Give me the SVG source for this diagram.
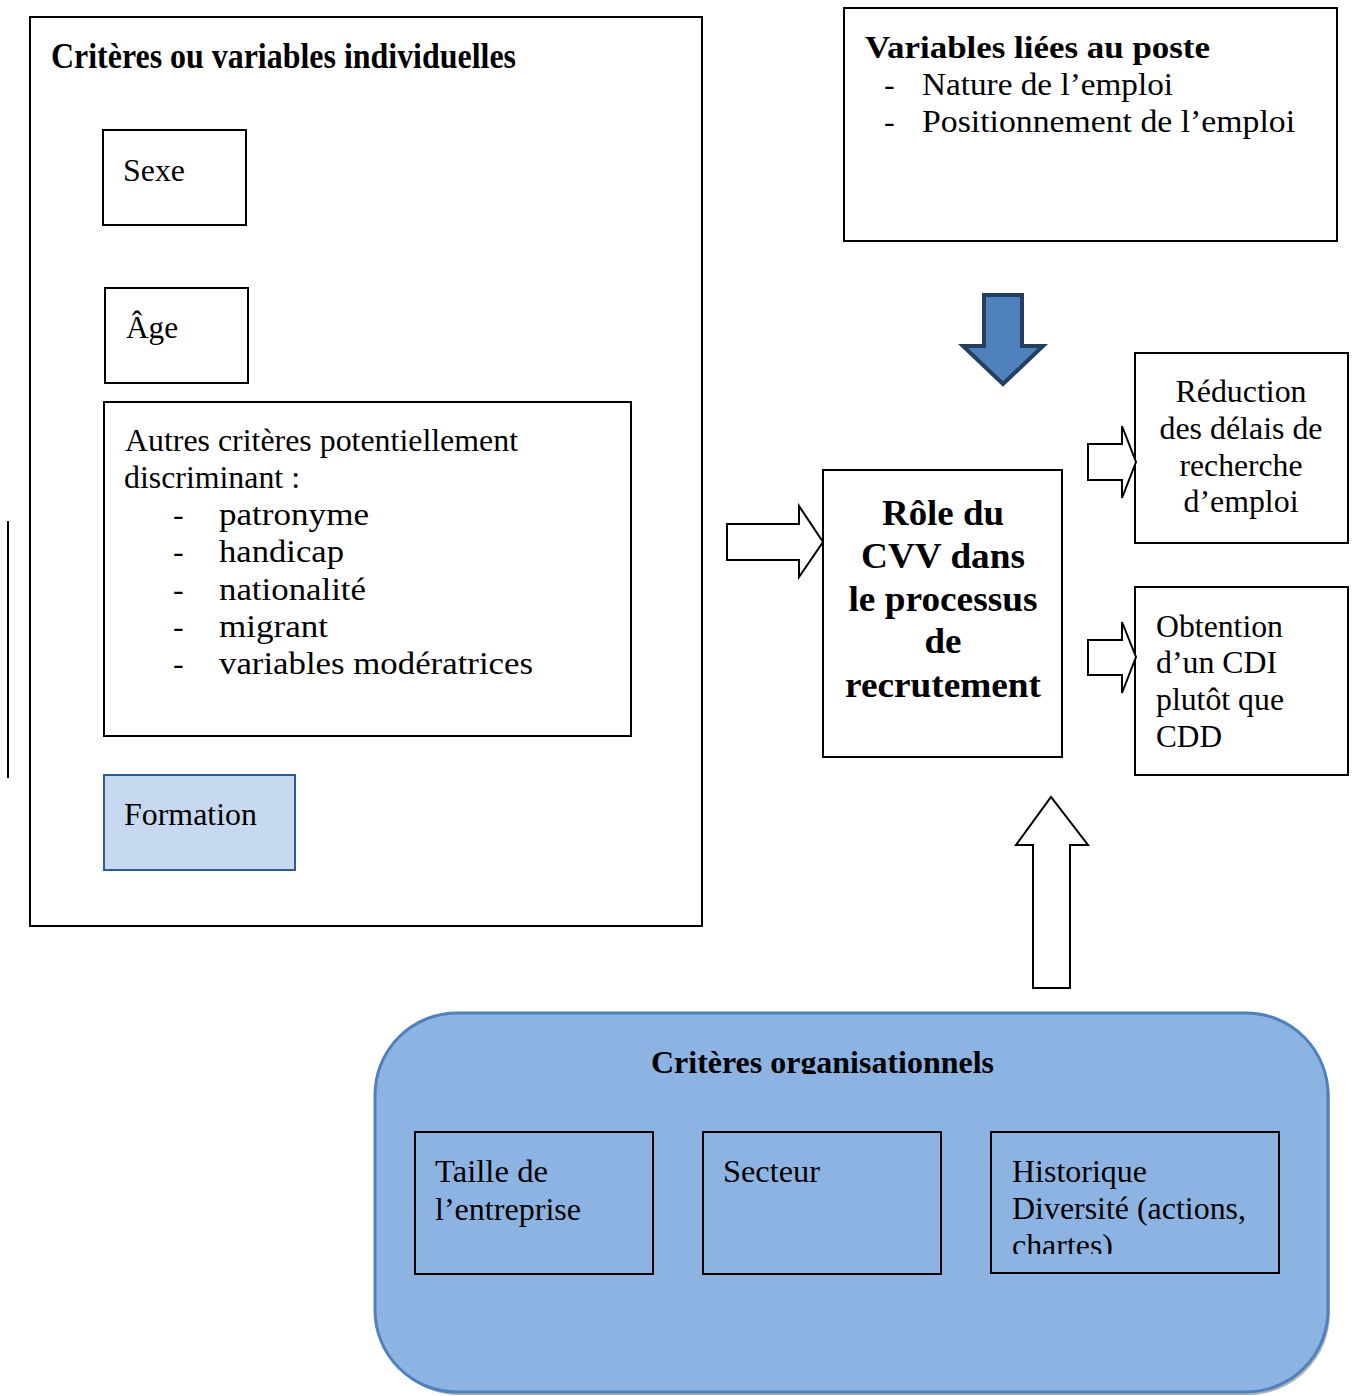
<svg xmlns="http://www.w3.org/2000/svg" width="1354" height="1396" viewBox="0 0 1354 1396">
<style>
text{font-family:"Liberation Serif","Times New Roman",serif;fill:#000}
.b{font-weight:bold}
.box{fill:none;stroke:#000;stroke-width:2}
.wbox{fill:#fff;stroke:#000;stroke-width:2}
.harrow{fill:#fff;stroke:#000;stroke-width:2;stroke-linejoin:miter}
.t{font-size:32px}
.c{text-anchor:middle}
</style>
<defs>
<clipPath id="clipTitle"><rect x="600" y="1030" width="450" height="44"/></clipPath>
<clipPath id="clipHist"><rect x="993" y="1134" width="284" height="120"/></clipPath>
</defs>
<rect width="1354" height="1396" fill="#fff"/>

<line x1="8" y1="521" x2="8" y2="778" stroke="#000" stroke-width="2"/>

<g id="individuelles">
<rect class="box" x="30" y="17" width="672" height="909"/>
<text class="b" x="51" y="68" font-size="35" textLength="465" lengthAdjust="spacingAndGlyphs">Critères ou variables individuelles</text>
</g>
<g id="sexe">
<rect class="box" x="103" y="130" width="143" height="95"/>
<text class="t" x="123" y="181" textLength="62" lengthAdjust="spacingAndGlyphs">Sexe</text>
</g>
<g id="age">
<rect class="box" x="105" y="288" width="143" height="95"/>
<text class="t" x="126" y="338" textLength="52" lengthAdjust="spacingAndGlyphs">Âge</text>
</g>
<g id="autres">
<rect class="box" x="104" y="402" width="527" height="334"/>
<text class="t" x="125" y="451" textLength="393" lengthAdjust="spacingAndGlyphs">Autres critères potentiellement</text>
<text class="t" x="124" y="488" textLength="176" lengthAdjust="spacingAndGlyphs">discriminant :</text>
<text class="t" x="173" y="525">-</text><text class="t" x="219" y="525" textLength="150" lengthAdjust="spacingAndGlyphs">patronyme</text>
<text class="t" x="173" y="562">-</text><text class="t" x="219" y="562" textLength="125" lengthAdjust="spacingAndGlyphs">handicap</text>
<text class="t" x="173" y="600">-</text><text class="t" x="219" y="600" textLength="147" lengthAdjust="spacingAndGlyphs">nationalité</text>
<text class="t" x="173" y="637">-</text><text class="t" x="219" y="637" textLength="109" lengthAdjust="spacingAndGlyphs">migrant</text>
<text class="t" x="173" y="674">-</text><text class="t" x="219" y="674" textLength="314" lengthAdjust="spacingAndGlyphs">variables modératrices</text>
</g>
<g id="formation">
<rect x="104" y="775" width="191" height="95" fill="#C6D9F1" stroke="#2F5B94" stroke-width="2"/>
<text class="t" x="124" y="825" textLength="133" lengthAdjust="spacingAndGlyphs">Formation</text>
</g>

<g id="poste">
<rect class="box" x="844" y="8" width="493" height="233"/>
<text class="b" x="865" y="58" font-size="32" textLength="345" lengthAdjust="spacingAndGlyphs">Variables liées au poste</text>
<text class="t" x="884" y="95">-</text><text class="t" x="922" y="95" textLength="251" lengthAdjust="spacingAndGlyphs">Nature de l’emploi</text>
<text class="t" x="884" y="132">-</text><text class="t" x="922" y="132" textLength="373" lengthAdjust="spacingAndGlyphs">Positionnement de l’emploi</text>
</g>

<g id="role">
<rect class="box" x="823" y="470" width="239" height="287"/>
<text class="b c" x="943" y="525" font-size="36" textLength="122" lengthAdjust="spacingAndGlyphs">Rôle du</text>
<text class="b c" x="943" y="568" font-size="36" textLength="164" lengthAdjust="spacingAndGlyphs">CVV dans</text>
<text class="b c" x="943" y="611" font-size="36" textLength="189" lengthAdjust="spacingAndGlyphs">le processus</text>
<text class="b c" x="943" y="653" font-size="36" textLength="37" lengthAdjust="spacingAndGlyphs">de</text>
<text class="b c" x="943" y="697" font-size="36" textLength="196" lengthAdjust="spacingAndGlyphs">recrutement</text>
</g>

<g id="reduction">
<rect class="box" x="1135" y="353" width="213" height="190"/>
<text class="t c" x="1241" y="402" textLength="131" lengthAdjust="spacingAndGlyphs">Réduction</text>
<text class="t c" x="1241" y="439" textLength="163" lengthAdjust="spacingAndGlyphs">des délais de</text>
<text class="t c" x="1241" y="476" textLength="123" lengthAdjust="spacingAndGlyphs">recherche</text>
<text class="t c" x="1241" y="512" textLength="115" lengthAdjust="spacingAndGlyphs">d’emploi</text>
</g>

<g id="obtention">
<rect class="box" x="1135" y="587" width="213" height="188"/>
<text class="t" x="1156" y="637" textLength="127" lengthAdjust="spacingAndGlyphs">Obtention</text>
<text class="t" x="1156" y="673" textLength="121" lengthAdjust="spacingAndGlyphs">d’un CDI</text>
<text class="t" x="1156" y="710" textLength="128" lengthAdjust="spacingAndGlyphs">plutôt que</text>
<text class="t" x="1156" y="747" textLength="66" lengthAdjust="spacingAndGlyphs">CDD</text>
</g>

<g id="organisationnels">
<rect x="377" y="1017" width="953" height="378" rx="82" ry="82" fill="#7F7F7F" opacity="0.6"/>
<rect x="375" y="1013" width="953" height="379" rx="82" ry="82" fill="#8DB3E2" stroke="#4F81BD" stroke-width="3"/>
<text class="b" x="651" y="1073" font-size="31" textLength="343" lengthAdjust="spacingAndGlyphs" clip-path="url(#clipTitle)">Critères organisationnels</text>
</g>
<g id="taille">
<rect class="box" x="415" y="1132" width="238" height="142"/>
<text class="t" x="435" y="1182" textLength="113" lengthAdjust="spacingAndGlyphs">Taille de</text>
<text class="t" x="435" y="1220" textLength="146" lengthAdjust="spacingAndGlyphs">l’entreprise</text>
</g>
<g id="secteur">
<rect class="box" x="703" y="1132" width="238" height="142"/>
<text class="t" x="723" y="1182" textLength="97" lengthAdjust="spacingAndGlyphs">Secteur</text>
</g>
<g id="historique">
<rect class="box" x="991" y="1132" width="288" height="141"/>
<g clip-path="url(#clipHist)">
<text class="t" x="1012" y="1182" textLength="135" lengthAdjust="spacingAndGlyphs">Historique</text>
<text class="t" x="1012" y="1219" textLength="234" lengthAdjust="spacingAndGlyphs">Diversité (actions,</text>
<text class="t" x="1012" y="1256" textLength="101" lengthAdjust="spacingAndGlyphs">chartes)</text>
</g>
</g>

<g id="connectors">
<polygon points="984,295 1022,295 1022,346 1043,346 1003,384 963,346 984,346" fill="#4F81BD" stroke="#243F60" stroke-width="4" stroke-linejoin="miter"/>
<polygon class="harrow" points="727,524 799,524 799,506 823,542 799,577 799,560 727,560"/>
<polygon class="harrow" points="1088,444 1122,444 1122,426 1136,462 1122,498 1122,480 1088,480"/>
<polygon class="harrow" points="1088,640 1122,640 1122,622 1136,657 1122,693 1122,675 1088,675"/>
<polygon class="harrow" points="1033,988 1033,845 1016,845 1051,797 1088,845 1070,845 1070,988"/>
</g>
</svg>
